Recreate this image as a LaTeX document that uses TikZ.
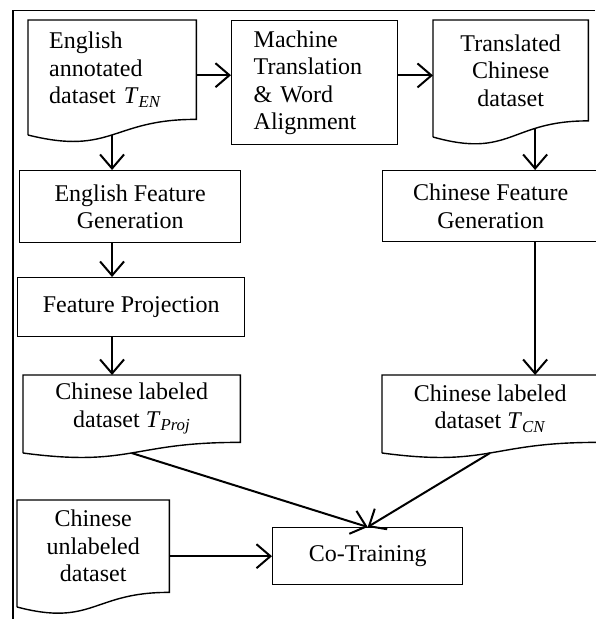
\documentclass[tikz,border=0pt]{standalone}
\usepackage{fontspec}
\setmainfont{Liberation Serif}
\usetikzlibrary{arrows.meta}
\newcommand{\Tsub}[1]{\textit{T}\textsubscript{\textit{#1}}}
\begin{document}
\begin{tikzpicture}[x=1pt,y=-1pt,
  every node/.style={font=\fontsize{24}{27.5}\selectfont, inner sep=0pt, anchor=north west},
  box/.style={draw=black, line width=1.4pt},
  txt/.style={align=center},
  arr/.style={draw=black, line width=2pt, -{Straight Barb[length=14pt,width=24pt]}},
  frame/.style={draw=black, line width=1.6pt}]
\useasboundingbox (0,0) rectangle (595,619);
% frame
\draw[frame] (595,10.5) -- (13,10.5) -- (13,619);

% English annotated dataset (document)
\node[minimum width=168pt, minimum height=99pt, text width=126pt, inner xsep=21pt, align=left] (en) at (28,20)
  {English\\annotated\\dataset \Tsub{EN}};
\draw[box] (28,135) -- (en.north west) -- (en.north east) -- (en.south east)
  .. controls (112,119) and (112,156) .. (28,135) coordinate[pos=0.5] (enb);

% Machine translation
\node[box, minimum width=166pt, minimum height=124pt, text width=122pt, inner xsep=22pt, align=left] (mt) at (231,20)
  {Machine\\Translation\\\& Word\\Alignment};

% Translated Chinese dataset (document)
\node[minimum width=155pt, minimum height=100.5pt, txt] (tr) at (433,20)
  {Translated\\Chinese\\dataset};
\draw[box] (433,137) -- (tr.north west) -- (tr.north east) -- (tr.south east)
  .. controls (510.5,120.5) and (510.5,159) .. (433,137) coordinate[pos=0.3] (trb);

% English Feature Generation
\node[box, minimum width=221pt, minimum height=72pt, txt] (efg) at (19,170)
  {English Feature\\Generation};

% Chinese Feature Generation
\node[box, minimum width=216pt, minimum height=71pt, txt] (cfg) at (382,170)
  {Chinese Feature\\Generation};

% Feature Projection
\node[box, minimum width=227pt, minimum height=59pt, txt] (fp) at (17,277)
  {Feature Projection};

% Chinese labeled dataset T_Proj (document)
\node[minimum width=217pt, minimum height=67pt, txt] (tp) at (23,375)
  {Chinese labeled\\dataset \Tsub{Proj}};
\draw[box] (23,453) -- (tp.north west) -- (tp.north east) -- (tp.south east)
  .. controls (131.5,442) and (131.5,467.5) .. (23,453) coordinate[pos=0.5] (tpb);

% Chinese labeled dataset T_CN (document)
\node[minimum width=216pt, minimum height=67pt, txt] (tcn) at (382,375)
  {Chinese labeled\\dataset \Tsub{CN}};
\draw[box] (382,453) -- (tcn.north west) -- (tcn.north east) -- (tcn.south east)
  .. controls (490,442) and (490,467.5) .. (382,453) coordinate[pos=0.5] (tcnb);

% Chinese unlabeled dataset (document)
\node[minimum width=152pt, minimum height=92pt, txt] (ul) at (17,500)
  {Chinese\\unlabeled\\dataset};
\draw[box] (17,607) -- (ul.north west) -- (ul.north east) -- (ul.south east)
  .. controls (93,592) and (93,627) .. (17,607);

% Co-Training
\node[box, minimum width=190pt, minimum height=57pt, txt] (co) at (272,527)
  {Co-Training};

% connectors
\draw[arr] ([yshift=-5.5pt]en.east) -- ([yshift=-5.5pt]en.east -| mt.west);
\draw[arr] ([yshift=-5pt]tr.west -| mt.east) -- ([yshift=-5pt]tr.west);
\draw[arr] (enb) -- (enb |- efg.north);
\draw[arr] (trb) -- (trb |- cfg.north);
\draw[arr] (efg.south -| enb) -- (enb |- fp.north);
\draw[arr] (fp.south -| enb) -- (enb |- tp.north);
\draw[arr] (cfg.south -| trb) -- (trb |- tcn.north);
\draw[arr] (tpb) -- (co.north);
\draw[arr] (tcnb) -- (co.north);
\draw[arr] (ul.east |- co.west) -- (co.west);
\end{tikzpicture}
\end{document}
